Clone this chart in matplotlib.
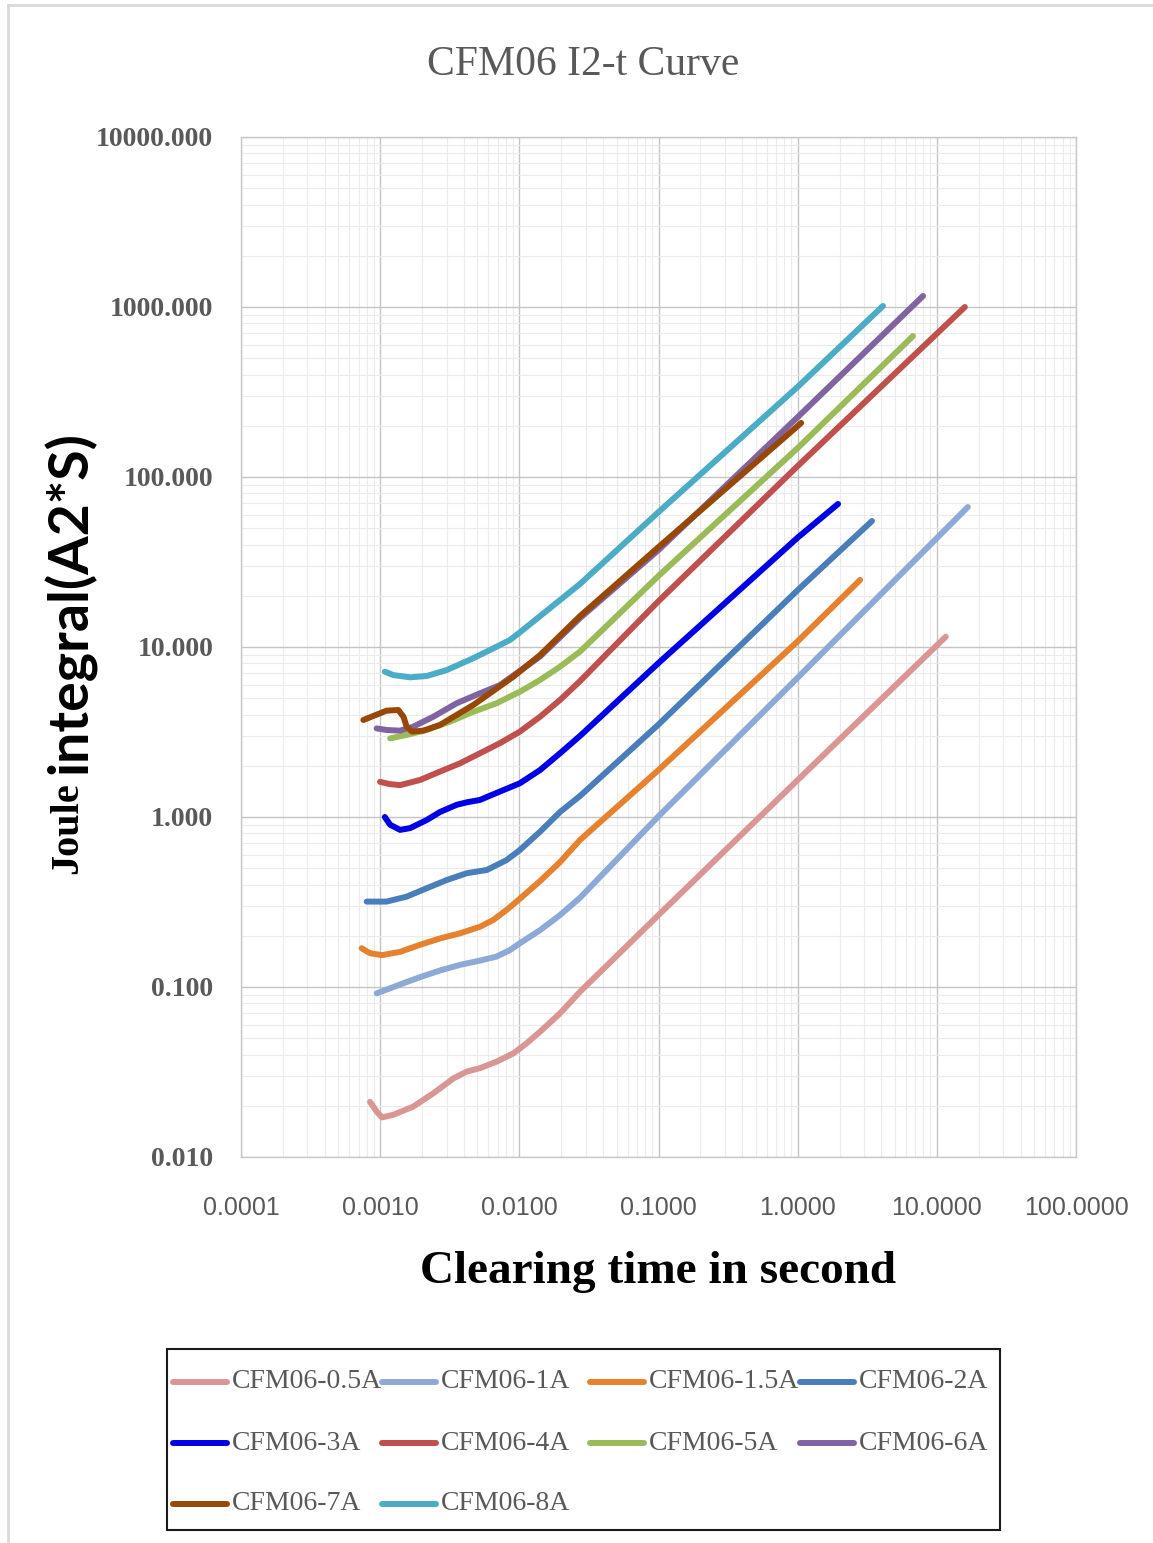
import matplotlib
matplotlib.use("Agg")
import matplotlib.pyplot as plt
from matplotlib.ticker import LogLocator, FormatStrFormatter, NullFormatter
from matplotlib.lines import Line2D
from matplotlib.patches import Rectangle

# Data (clearing time [s], I2t [A2*s])
names = ["CFM06-0.5A", "CFM06-1A", "CFM06-1.5A", "CFM06-2A", "CFM06-3A",
         "CFM06-4A", "CFM06-5A", "CFM06-6A", "CFM06-7A", "CFM06-8A"]
colors = ["#d99694", "#8fa9d6", "#e6822e", "#4a7ebb", "#0000e6",
          "#c0504d", "#9bbb59", "#8064a2", "#974806", "#4bacc6"]

t_05 = [0.000845, 0.000944, 0.00103, 0.00124, 0.00173, 0.00241, 0.00336, 0.00419,
        0.00521, 0.00687, 0.00906, 0.0113, 0.0141, 0.0196, 0.0273, 0.1, 1.0, 11.6]
i_05 = [0.0211, 0.0185, 0.0171, 0.0177, 0.0198, 0.0237, 0.029, 0.0318,
        0.0333, 0.0364, 0.0407, 0.0467, 0.0546, 0.070, 0.0938, 0.265, 1.65, 11.5]

t_1 = [0.000944, 0.00118, 0.00155, 0.00204, 0.00269, 0.00375, 0.00521, 0.00687,
       0.00857, 0.0101, 0.0141, 0.0196, 0.0273, 0.1, 1.0, 16.7]
i_1 = [0.0918, 0.0983, 0.107, 0.116, 0.125, 0.135, 0.143, 0.151,
       0.165, 0.181, 0.216, 0.265, 0.335, 1.01, 6.6, 66.6]

t_15 = [0.000736, 0.000845, 0.00103, 0.00139, 0.00193, 0.00269, 0.00375, 0.00521,
        0.0065, 0.0081, 0.00985, 0.0141, 0.0196, 0.0273, 0.1, 1.0, 2.81]
i_15 = [0.169, 0.158, 0.154, 0.161, 0.177, 0.193, 0.207, 0.226,
        0.248, 0.284, 0.325, 0.42, 0.543, 0.733, 1.89, 10.8, 24.8]

t_2 = [0.0008, 0.00111, 0.00155, 0.00216, 0.00301, 0.00419, 0.00584, 0.0081,
       0.0101, 0.0141, 0.0196, 0.0273, 0.1, 1.0, 3.42]
i_2 = [0.318, 0.318, 0.340, 0.381, 0.426, 0.467, 0.488, 0.558,
       0.64, 0.82, 1.07, 1.33, 3.5, 21.6, 55.1]

t_3 = [0.00108, 0.00118, 0.00139, 0.00164, 0.00216, 0.00269, 0.00355, 0.00419,
       0.00521, 0.0065, 0.0101, 0.0141, 0.0196, 0.0273, 0.1, 1.0, 1.95]
i_3 = [1.00, 0.90, 0.84, 0.86, 0.96, 1.07, 1.18, 1.22,
       1.26, 1.36, 1.58, 1.89, 2.37, 3.0, 8.05, 44.0, 69.4]

t_4 = [0.000998, 0.00118, 0.00139, 0.00193, 0.00269, 0.00375, 0.00521, 0.00726,
       0.0101, 0.0141, 0.0196, 0.0273, 0.1, 1.0, 15.9]
i_4 = [1.61, 1.56, 1.54, 1.65, 1.85, 2.07, 2.37, 2.72,
       3.18, 3.89, 4.88, 6.3, 18.6, 116, 1000]

t_5 = [0.00118, 0.00155, 0.00216, 0.00318, 0.00467, 0.00687, 0.0101, 0.0141,
       0.0196, 0.0273, 0.1, 1.0, 6.74]
i_5 = [2.90, 3.04, 3.25, 3.64, 4.16, 4.67, 5.46, 6.40,
       7.66, 9.4, 26.2, 148, 675]

t_6 = [0.000944, 0.00111, 0.00139, 0.00173, 0.00241, 0.00355, 0.00521, 0.00726,
       0.0141, 0.0273, 0.1, 1.0, 7.96]
i_6 = [3.32, 3.25, 3.22, 3.40, 3.89, 4.67, 5.34, 5.97,
       8.8, 14.8, 37.2, 225, 1161]

t_7 = [0.000757, 0.00111, 0.00135, 0.00147, 0.00155, 0.00169, 0.00204, 0.00269,
       0.00467, 0.00906, 0.0141, 0.0273, 0.1, 1.06]
i_7 = [3.72, 4.22, 4.26, 3.89, 3.40, 3.18, 3.22, 3.48,
       4.56, 6.69, 8.97, 15.2, 38.7, 208]

t_8 = [0.00108, 0.00124, 0.00164, 0.00216, 0.00301, 0.00467, 0.0065, 0.00857,
       0.0101, 0.0273, 0.1, 1.0, 4.10]
i_8 = [7.16, 6.84, 6.63, 6.75, 7.32, 8.59, 9.82, 11.0,
       12.2, 23.5, 62.2, 339, 1014]

times = [t_05, t_1, t_15, t_2, t_3, t_4, t_5, t_6, t_7, t_8]
joules = [i_05, i_1, i_15, i_2, i_3, i_4, i_5, i_6, i_7, i_8]

W, H = 1153, 1543


def fx(px):
    return px / W


def fy(py):
    return 1 - py / H


serif = ["Liberation Serif", "DejaVu Serif"]
sans = ["Liberation Sans", "DejaVu Sans"]
grey = "#595959"

fig = plt.figure(figsize=(W / 100, H / 100), dpi=100)
fig.patch.set_facecolor("white")

# thin outer frame of the chart area
fig.add_artist(Line2D([fx(8), fx(8)], [fy(5), fy(1543)], transform=fig.transFigure,
                      color="#d9d9d9", lw=2))
fig.add_artist(Line2D([fx(8), fx(1153)], [fy(5), fy(5)], transform=fig.transFigure,
                      color="#d9d9d9", lw=2))

ax = fig.add_axes([fx(241), fy(1157), (1076 - 241) / W, (1157 - 137) / H])
ax.set_xscale("log")
ax.set_yscale("log")
ax.set_xlim(1e-4, 100)
ax.set_ylim(0.01, 10000)

for t, j, c in zip(times, joules, colors):
    ax.plot(t, j, color=c, lw=4.3, solid_capstyle="round", solid_joinstyle="round")

ax.xaxis.set_major_locator(LogLocator(base=10, numticks=10))
ax.yaxis.set_major_locator(LogLocator(base=10, numticks=10))
ax.xaxis.set_minor_locator(LogLocator(base=10, subs=range(2, 10), numticks=100))
ax.yaxis.set_minor_locator(LogLocator(base=10, subs=range(2, 10), numticks=100))
ax.xaxis.set_major_formatter(FormatStrFormatter("%.4f"))
ax.yaxis.set_major_formatter(FormatStrFormatter("%.3f"))
ax.xaxis.set_minor_formatter(NullFormatter())
ax.yaxis.set_minor_formatter(NullFormatter())

ax.grid(which="major", color="#c4c4c4", lw=1.0)
ax.grid(which="minor", color="#ebebeb", lw=0.8)
ax.set_axisbelow(True)
for s in ax.spines.values():
    s.set_color("#c8c8c8")
    s.set_linewidth(1.0)

ax.tick_params(which="both", length=0)
ax.tick_params(axis="x", pad=28)
ax.tick_params(axis="y", pad=20)
for lab in ax.get_xticklabels():
    lab.set_family(sans)
    lab.set_fontsize(18)
    lab.set_color(grey)
for lab in ax.get_yticklabels():
    lab.set_family(serif)
    lab.set_fontsize(20)
    lab.set_fontweight("bold")
    lab.set_color(grey)

fig.text(fx(583), fy(65), "CFM06 I2-t Curve", ha="center", va="center",
         family=serif, fontsize=30, color=grey)
fig.text(fx(658), fy(1272), "Clearing time in second", ha="center", va="center",
         family=serif, fontsize=34, fontweight="bold", color="black")

# y label: serif "Joule" followed by a sans part
t1 = fig.text(fx(68), fy(874), "Joule", rotation=90, ha="center", va="bottom",
              family=serif, fontsize=29, fontweight="bold", color="black")
r = fig.canvas.get_renderer()
bb = t1.get_window_extent(r)
fig.text(fx(70), (bb.y1 + 8) / H, "integral(A2*S)", rotation=90, ha="center",
         va="bottom", family=["Lato", "DejaVu Sans"], fontsize=40,
         fontweight="bold", color="black")

# legend box, four equal columns like the original
fig.add_artist(Rectangle((fx(167), fy(1530)), (1000 - 167) / W, (1530 - 1349) / H,
                         transform=fig.transFigure, fill=False, ec="#1a1a1a", lw=1.5))
col_x = [173, 382, 590, 800]
row_y = [1382, 1443, 1504]
for k, (nm, c) in enumerate(zip(names, colors)):
    x0 = col_x[k % 4]
    y0 = row_y[k // 4]
    fig.add_artist(Line2D([fx(x0), fx(x0 + 54)], [fy(y0), fy(y0)],
                          transform=fig.transFigure, color=c, lw=4.3,
                          solid_capstyle="round"))
    fig.text(fx(x0 + 59), fy(y0), nm, ha="left", va="center", family=serif,
             fontsize=20, color=grey)

fig.savefig("out.png", dpi=100)
